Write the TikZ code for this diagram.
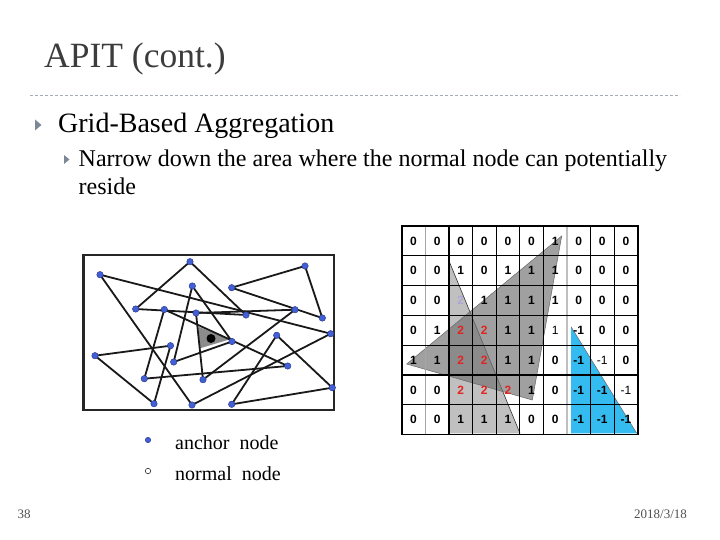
\documentclass[tikz,border=0pt]{standalone}
\usepackage{fontspec}
\setmainfont{Liberation Serif}
\newfontfamily\gridfont{Liberation Sans}
\pgfdeclarelayer{paper}
\pgfdeclarelayer{bg}
\pgfsetlayers{paper,bg,main}
\definecolor{anchorblue}{RGB}{66,96,214}
\definecolor{anchoredge}{RGB}{40,50,130}
\definecolor{skyblue}{RGB}{52,188,240}
\definecolor{bulletgray}{RGB}{125,135,150}
\definecolor{titlegray}{RGB}{60,60,60}
\definecolor{digitred}{RGB}{225,35,35}
\definecolor{digitlav}{RGB}{175,165,215}
\definecolor{dashgray}{RGB}{165,172,180}
\definecolor{lightfill}{RGB}{192,192,192}
\definecolor{darkfill}{RGB}{115,115,115}
\definecolor{foottext}{RGB}{80,80,80}
\newcommand\gRed[1]{\textcolor{digitred}{#1}}
\newcommand\gLav[1]{\textcolor{digitlav}{#1}}
\newcommand\gThin[1]{{\mdseries #1}}
\tikzset{
  anchorpt/.style={circle, fill=anchorblue, draw=anchoredge, line width=0.4pt, inner sep=0pt, minimum size=6.5pt},
  normalpt/.style={circle, fill=black, inner sep=0pt, minimum size=9pt},
  link/.style={line width=1.8pt, black!90, line cap=round, line join=round},
  digit/.style={font=\gridfont\bfseries\fontsize{12}{13}\selectfont, inner sep=0pt},
  gridline/.style={line width=1.2pt, black},
  bulletmark/.style={fill=bulletgray, draw=none},
  bodytext/.style={anchor=base west, inner sep=0pt, text=black},
}
\begin{document}
\begin{tikzpicture}[x=1pt,y=-1pt]
\useasboundingbox (0,0) rectangle (720,540);
\begin{pgfonlayer}{paper}
\fill[white] (0,0) rectangle (720,540);
\end{pgfonlayer}

% title and rule
\node[anchor=base west, inner sep=0pt, text=titlegray, font=\fontsize{35.5}{40}\selectfont] (title) at (44,68) {APIT (cont.)};
\draw[dashgray, line width=0.8pt, dash pattern=on 3pt off 2pt] (30,95) -- (680,95);

% bullets
\fill[bulletmark] (35,119.5) -- (41.5,125) -- (35,130.5) -- cycle;
\node[bodytext, font=\fontsize{28}{32}\selectfont] (b1) at (58,133) {Grid-Based Aggregation};
\fill[bulletmark] (64,155) -- (69.5,159.5) -- (64,164) -- cycle;
\node[bodytext, font=\fontsize{24}{28}\selectfont] (b2) at (78.5,167) {Narrow down the area where the normal node can potentially};
\node[bodytext, font=\fontsize{24}{28}\selectfont] (b3) at (78.5,195) {reside};

% network
\draw[line width=2.4pt, black!85] (83.5,255) rectangle (334,410);
\node[anchorpt] (A) at (190,261.7) {};
\node[anchorpt] (B) at (100,274.7) {};
\node[anchorpt] (C) at (305,266) {};
\node[anchorpt] (D) at (192.3,286) {};
\node[anchorpt] (E) at (231.7,287.7) {};
\node[anchorpt] (F) at (135.7,309) {};
\node[anchorpt] (G) at (164.3,309.5) {};
\node[anchorpt] (H) at (196,313) {};
\node[anchorpt] (I) at (246,315) {};
\node[anchorpt] (J) at (295,309.7) {};
\node[anchorpt] (K) at (322.3,318) {};
\node[anchorpt] (L) at (330.7,333.7) {};
\node[anchorpt] (M) at (276.7,335.3) {};
\node[anchorpt] (N) at (232,341.5) {};
\node[anchorpt] (O) at (170.5,345.7) {};
\node[anchorpt] (P) at (95,355.7) {};
\node[anchorpt] (Q) at (173.7,362) {};
\node[anchorpt] (R) at (287.7,366) {};
\node[anchorpt] (S) at (144.3,378.7) {};
\node[anchorpt] (T) at (203,379.7) {};
\node[anchorpt] (U) at (332.3,387.7) {};
\node[anchorpt] (V) at (154,403.7) {};
\node[anchorpt] (W) at (192,405) {};
\node[anchorpt] (X) at (231.7,404.3) {};
\begin{pgfonlayer}{bg}
  \coordinate (g1) at (198.3,326.7);
  \coordinate (g2) at (230,339.3);
  \coordinate (g3) at (200,348.3);
  \fill[black!45] (g1) -- (g2) -- (g3) -- cycle;
  \foreach \a/\b/\c in {A/F/I, B/W/L, C/E/K, D/Q/N, G/S/R, H/T/J, O/P/V, M/X/U}
    \draw[link] (\a.center) -- (\b.center) -- (\c.center) -- cycle;
\end{pgfonlayer}
\node[normalpt] (nn) at (211,338.5) {};

% legend
\node[anchorpt, minimum size=5.5pt] (la) at (148,440) {};
\node[circle, draw=black!80, line width=0.6pt, inner sep=0pt, minimum size=5.5pt] (ln) at (148,471) {};
\node[bodytext, font=\fontsize{20}{24}\selectfont] (lta) at (175,449) {anchor\ \ node};
\node[bodytext, font=\fontsize{20}{24}\selectfont] (ltn) at (175,480) {normal\ \ node};

% grid shapes
\fill[lightfill] (449.3,261.7) -- (449.3,433.3) -- (520,433.3) -- cycle;
\draw[line width=0.6pt, black!80] (449.3,261.7) -- (520,433.3);
\fill[darkfill, opacity=0.68] (561.7,236) -- (406.7,364) -- (532.3,400) -- cycle;
\draw[line width=0.5pt, black!60] (561.7,236) -- (406.7,364) -- (532.3,400) -- cycle;
\fill[skyblue] (571,326.7) -- (571,433.3) -- (636.7,433.3) -- cycle;
\draw[line width=0.5pt, black!60] (571,326.7) -- (636.7,433.3);

% grid lines
\foreach \i in {0,...,10} {
  \pgfmathsetmacro{\gx}{401.7+23.6*\i}
  \ifnum\i=1 \draw[gridline, black!35] (\gx,226) -- (\gx,434.6);
  \else\ifnum\i=7 \draw[gridline, black!25] (\gx,226) -- (\gx,434.6);
  \else \draw[gridline] (\gx,226) -- (\gx,434.6);
  \fi\fi
}
\foreach \j in {0,...,7} {
  \pgfmathsetmacro{\gy}{226+29.8*\j}
  \draw[gridline] (401.7,\gy) -- (637.7,\gy);
}
\draw[line width=1.6pt] (401.7,226) rectangle (637.7,434.6);

% grid digits
\foreach \row [count=\r] in {
  {0,0,0,0,0,0,1,0,0,0},
  {0,0,1,0,1,1,1,0,0,0},
  {0,0,\gLav{2},1,1,1,1,0,0,0},
  {0,1,\gRed{2},\gRed{2},1,1,\gThin{1},-1,0,0},
  {1,1,\gRed{2},\gRed{2},1,1,0,-1,\gThin{-1},0},
  {0,0,\gRed{2},\gRed{2},\gRed{2},1,0,-1,-1,\gThin{-1}},
  {0,0,1,1,1,0,0,-1,-1,-1}} {
  \foreach \v [count=\c] in \row {
    \node[digit] (d\r-\c) at ({401.7+23.6*(\c-0.5)},{226+29.8*(\r-0.5)}) {\v};
  }
}

% footer
\node[anchor=base west, inner sep=0pt, text=foottext, font=\fontsize{13}{15}\selectfont] (pg) at (17.5,518) {38};
\node[anchor=base west, inner sep=0pt, text=foottext, font=\fontsize{13}{15}\selectfont] (dt) at (634,518) {2018/3/18};
\end{tikzpicture}
\end{document}
